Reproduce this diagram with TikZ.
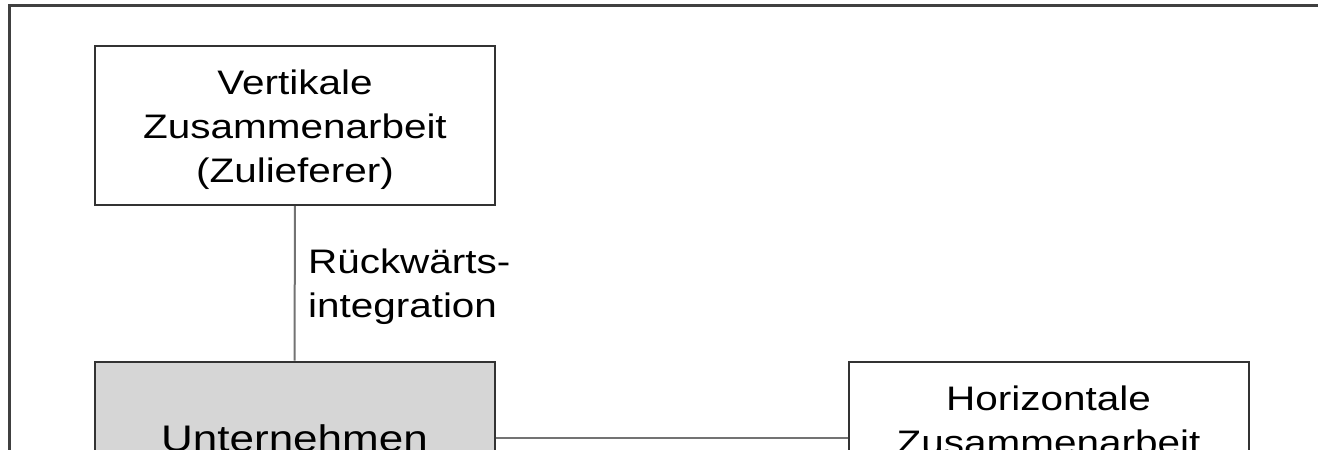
\documentclass[tikz,border=0pt]{standalone}
\usepackage{fontspec}
\setmainfont[FakeStretch=1.19]{Liberation Sans}
\usetikzlibrary{positioning}
\begin{document}
\begin{tikzpicture}[x=0.5pt, y=-0.5pt, font=\fontsize{17}{22}\selectfont,
  box/.style={draw=black!80, line width=1pt, minimum width=200pt, minimum height=79.5pt, align=center, inner sep=0pt},
  link/.style={draw=black!55, line width=1pt}]
\useasboundingbox (0,0) rectangle (1318,450);
\clip (0,0) rectangle (1318,450);
\draw[line width=1.5pt, black!75] (9,470)--(9,5)--(1340,5);

\node[box] (vert) at (295,125.5) {\rule{0pt}{16.5pt}Vertikale\\Zusammenarbeit\\(Zulieferer)};
\node[box, fill=black!16, text depth=3pt, font=\fontsize{18.5}{22}\selectfont] (unt) at (294.5,441) {Unternehmen};
\node[box] (hor) at (1048.5,441) {Horizontale\\Zusammenarbeit\\[-8pt]\strut};
\draw[link] (vert) -- (unt);
\draw[link] ([yshift=1.5pt]unt.east) -- ([yshift=1.5pt]hor.west);
\node[right, align=left] (rueck) at (301,287) {Rückwärts-\\integration};

\end{tikzpicture}
\end{document}
